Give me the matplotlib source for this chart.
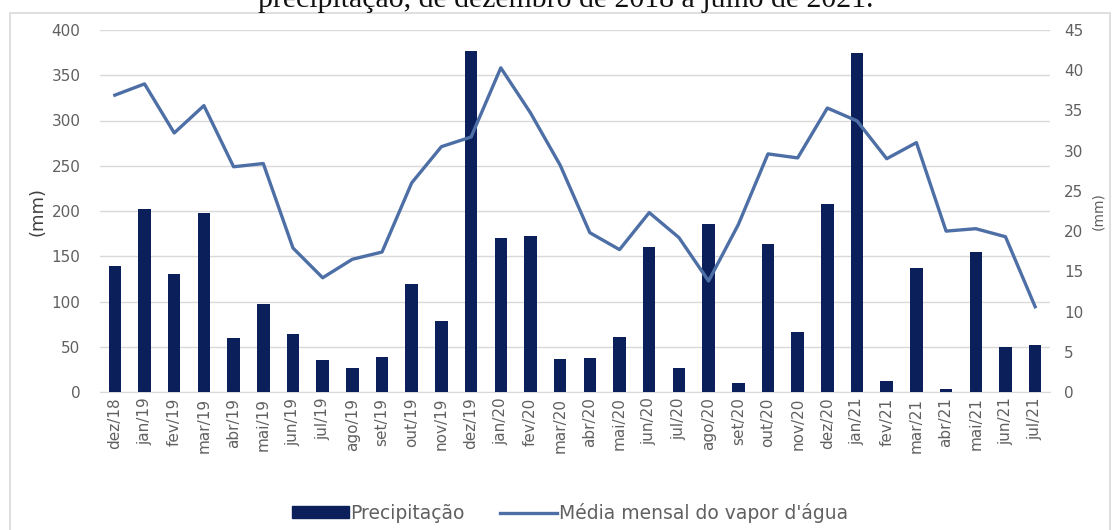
import matplotlib
matplotlib.use("Agg")
import matplotlib.pyplot as plt
from matplotlib.patches import Rectangle
from matplotlib.lines import Line2D
from matplotlib.patches import Patch

months = ["dez/18", "jan/19", "fev/19", "mar/19", "abr/19", "mai/19", "jun/19", "jul/19",
          "ago/19", "set/19", "out/19", "nov/19", "dez/19", "jan/20", "fev/20", "mar/20",
          "abr/20", "mai/20", "jun/20", "jul/20", "ago/20", "set/20", "out/20", "nov/20",
          "dez/20", "jan/21", "fev/21", "mar/21", "abr/21", "mai/21", "jun/21", "jul/21"]
precip = [139, 202, 130, 198, 60, 97, 64, 35, 27, 39, 119, 79, 377, 170, 172, 37,
          38, 61, 160, 26, 186, 10, 164, 66, 208, 375, 12, 137, 3, 155, 50, 52]
vapor = [36.9, 38.3, 32.2, 35.6, 28.0, 28.4, 17.9, 14.2, 16.5, 17.4, 26.0, 30.5,
         31.7, 40.3, 34.7, 28.2, 19.8, 17.7, 22.3, 19.2, 13.8, 20.8, 29.6, 29.1,
         35.3, 33.7, 29.0, 31.0, 20.0, 20.3, 19.3, 10.6]
left_ticks = [0, 50, 100, 150, 200, 250, 300, 350, 400]
right_ticks = [0, 5, 10, 15, 20, 25, 30, 35, 40, 45]

bar_color = "#0b1f5a"
line_color = "#4d6fa6"
tick_color = "#606060"

fig = plt.figure(figsize=(11.2, 5.3), dpi=100)
W, H = 1120, 530

# outer border
fig.patches.append(Rectangle((10 / W, -0.01), 1100 / W, (530 - 13) / H + 0.01,
                             transform=fig.transFigure, fill=False,
                             edgecolor="#d9d9d9", linewidth=1.2))

# title, only its lower part is visible at the top edge (as in the reference)
fig.text(566 / W, 1 - 7 / H, "precipitação, de dezembro de 2018 a julho de 2021.",
         ha="center", va="baseline", family="Liberation Serif", fontsize=21.5,
         color="#111111")

ax = fig.add_axes([100 / W, 138 / H, 950 / W, 362 / H])
x = list(range(len(months)))
ax.bar(x, precip, width=0.42, color=bar_color, zorder=3)
ax.set_xlim(-0.5, len(months) - 0.5)
ax.set_ylim(0, 400)
ax.set_yticks(left_ticks)
ax.set_xticks(x)
ax.set_xticklabels(months, rotation=90)
ax.grid(axis="y", color="#d9d9d9", linewidth=1)
ax.set_axisbelow(True)
for s in ["top", "right", "left"]:
    ax.spines[s].set_visible(False)
ax.spines["bottom"].set_color("#d9d9d9")
ax.tick_params(axis="both", length=0, colors=tick_color, labelsize=11)
ax.tick_params(axis="y", pad=14)
ax.tick_params(axis="x", pad=4)
ax.set_ylabel("(mm)", fontsize=13, color="#404040", labelpad=4)

ax2 = ax.twinx()
ax2.plot(x, vapor, color=line_color, linewidth=2.4, zorder=4)
ax2.set_ylim(0, 45)
ax2.set_yticks(right_ticks)
for s in ["top", "right", "left", "bottom"]:
    ax2.spines[s].set_visible(False)
ax2.tick_params(axis="y", length=0, colors=tick_color, labelsize=11, pad=10)
ax2.set_ylabel("(mm)", fontsize=10, color=tick_color, labelpad=6)

handles = [Patch(facecolor=bar_color, edgecolor=bar_color),
           Line2D([0], [0], color=line_color, linewidth=2.4)]
fig.legend(handles, ["Precipitação", "Média mensal do vapor d'água"],
           loc="center", bbox_to_anchor=(570 / W, 1 - 513 / H), ncol=2,
           frameon=False, fontsize=13.5, labelcolor=tick_color,
           handlelength=3.0, handleheight=0.6, handletextpad=0.1,
           columnspacing=1.9)

fig.savefig("out.png", dpi=100)
